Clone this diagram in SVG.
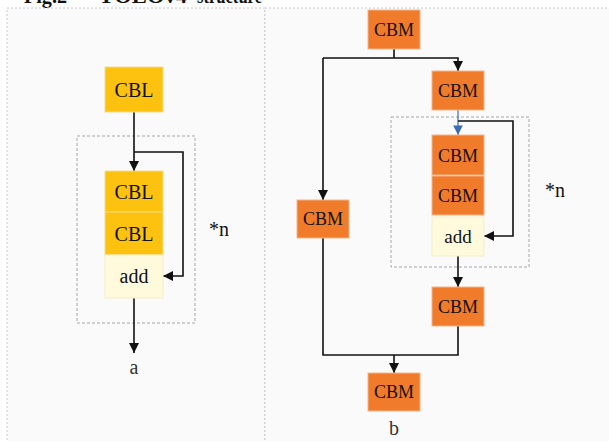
<svg xmlns="http://www.w3.org/2000/svg" width="609" height="441" viewBox="0 0 609 441">
<style>
.panel{fill:#fafafa;stroke:#c8c8c8;stroke-width:1;stroke-dasharray:2 2}
.grp{fill:none;stroke:#a6a6a6;stroke-width:1;stroke-dasharray:3 2}
.cbl{fill:#fcc20f;stroke:#f5d98a;stroke-width:1}
.cbm{fill:#f07b2b;stroke:#f5b58a;stroke-width:1}
.add{fill:#fffadc;stroke:#f3edc8;stroke-width:1}
.t{font-size:20px;fill:#111;text-anchor:middle}
.tm{font-size:19px;fill:#111;text-anchor:middle}
.lbl{font-size:20px;fill:#333;text-anchor:middle}
.c{fill:none;stroke:#111;stroke-width:1.6}
.cb{fill:none;stroke:#3a6bb5;stroke-width:1.2}
</style>
<defs>
<marker id="ah" viewBox="0 0 10 10" refX="10" refY="5" markerWidth="6.5" markerHeight="6.5" markerUnits="strokeWidth" orient="auto">
<path d="M0,0 L10,5 L0,10 z" fill="#111"/>
</marker>
<marker id="ahb" viewBox="0 0 10 10" refX="10" refY="5" markerWidth="8" markerHeight="8" markerUnits="strokeWidth" orient="auto">
<path d="M0,0 L10,5 L0,10 z" fill="#3a6bb5"/>
</marker>
</defs>
<rect x="0" y="0" width="609" height="441" fill="#ffffff"/>
<g font-family="'Liberation Serif','Times New Roman',serif">
<text x="24" y="3" font-weight="bold" font-size="22" fill="#111"><tspan x="24" textLength="43" lengthAdjust="spacingAndGlyphs">Fig.2</tspan><tspan x="98" textLength="89" lengthAdjust="spacingAndGlyphs">YOLOv4</tspan><tspan x="197" textLength="65" lengthAdjust="spacingAndGlyphs">structure</tspan></text>
</g>
<rect class="panel" x="7" y="8" width="258" height="440"/>
<rect class="panel" x="265" y="8" width="350" height="440"/>

<g id="groupA"><rect class="grp" x="77" y="136" width="118" height="187"/></g>
<g id="groupB"><rect class="grp" x="391" y="117" width="138" height="150"/></g>

<g id="connectors">
<path class="c" d="M134,112 V171" marker-end="url(#ah)"/>
<path class="c" d="M134,152 H183 V276 H163" marker-end="url(#ah)"/>
<path class="c" d="M134,298 V353" marker-end="url(#ah)"/>
<path class="c" d="M394,49 V58"/>
<path class="c" d="M323,58 H458 V71" marker-end="url(#ah)"/>
<path class="c" d="M323,58 V200" marker-end="url(#ah)"/>
<path class="cb" d="M458,110 V135" marker-end="url(#ahb)"/>
<path class="c" d="M458,121 H513 V236 H484" marker-end="url(#ah)"/>
<path class="c" d="M458,256 V287" marker-end="url(#ah)"/>
<path class="c" d="M323,238 V355 H458 V326"/>
<path class="c" d="M394,355 V373" marker-end="url(#ah)"/>
</g>

<g font-family="'Liberation Serif','Times New Roman',serif">
<g id="cbl1"><rect class="cbl" x="105" y="67" width="58" height="45"/><text class="t" x="134" y="97">CBL</text></g>
<g id="cbl2"><rect class="cbl" x="105" y="171" width="58" height="41"/><text class="t" x="134" y="199">CBL</text></g>
<g id="cbl3"><rect class="cbl" x="105" y="212" width="58" height="43"/><text class="t" x="134" y="241">CBL</text></g>
<g id="addA"><rect class="add" x="105" y="255" width="58" height="43"/><text class="t" x="134" y="283" font-size="21">add</text></g>
<text id="nA" class="t" x="219" y="236">*n</text>
<text id="labelA" class="lbl" x="134" y="374">a</text>

<g id="cbm1"><rect class="cbm" x="368" y="10" width="52" height="39"/><text class="tm" x="394" y="36" textLength="40" lengthAdjust="spacingAndGlyphs">CBM</text></g>
<g id="cbm2"><rect class="cbm" x="432" y="71" width="52" height="39"/><text class="tm" x="458" y="97" textLength="40" lengthAdjust="spacingAndGlyphs">CBM</text></g>
<g id="cbm3"><rect class="cbm" x="432" y="135" width="52" height="40"/><text class="tm" x="458" y="162" textLength="40" lengthAdjust="spacingAndGlyphs">CBM</text></g>
<g id="cbm4"><rect class="cbm" x="432" y="176" width="52" height="39"/><text class="tm" x="458" y="202" textLength="40" lengthAdjust="spacingAndGlyphs">CBM</text></g>
<g id="addB"><rect class="add" x="432" y="217" width="52" height="39"/><text class="tm" x="458" y="243">add</text></g>
<g id="cbm5"><rect class="cbm" x="432" y="287" width="52" height="39"/><text class="tm" x="458" y="313" textLength="40" lengthAdjust="spacingAndGlyphs">CBM</text></g>
<g id="cbmL"><rect class="cbm" x="297" y="200" width="52" height="38"/><text class="tm" x="323" y="225" textLength="40" lengthAdjust="spacingAndGlyphs">CBM</text></g>
<g id="cbm6"><rect class="cbm" x="368" y="373" width="52" height="38"/><text class="tm" x="394" y="398" textLength="40" lengthAdjust="spacingAndGlyphs">CBM</text></g>
<text id="nB" class="t" x="555" y="197">*n</text>
<text id="labelB" class="lbl" x="394" y="435">b</text>
</g>
</svg>
